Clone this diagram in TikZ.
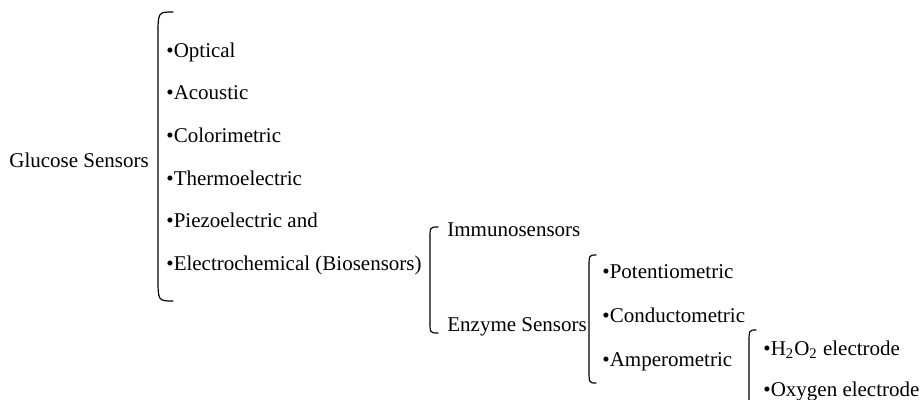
\documentclass[tikz,border=0pt]{standalone}
\usepackage{fontspec}
\setmainfont{Liberation Serif}
\usetikzlibrary{calc,positioning}

\begin{document}
\begin{tikzpicture}[x=0.5pt,y=-0.5pt,
    lbl/.style={anchor=west,inner sep=0pt,font=\fontsize{10.5}{12}\selectfont,
      text height=1.45ex,text depth=.3ex},
    brace/.style={line width=0.6pt,line cap=round}]
    \useasboundingbox (0,0) rectangle (924,400);
    % first level
    \node[lbl] (glucose) at (9,162) {Glucose Sensors};
    \foreach \name/\txt [count=\i] in {optical/Optical,acoustic/Acoustic,
        colori/Colorimetric,thermo/Thermoelectric,piezo/Piezoelectric and,
        electro/Electrochemical (Biosensors)} {
      \node[lbl] (\name) at (166,{52+42.6*(\i-1)}) {\textbullet\txt};
    }
    \draw[brace] (173,12) .. controls (158,12) .. (158,36) -- (158,277)
      .. controls (158,301) .. (173,301);
    % biosensors
    \node[lbl] (immuno) at (447,231) {Immunosensors};
    \node[lbl] (enzyme) at (447,326) {Enzyme Sensors};
    \draw[brace] (438,227) .. controls (430,227) .. (430,239) -- (430,321)
      .. controls (430,333) .. (438,333);
    % enzyme sensors
    \node[lbl] (potentio) at (602,273) {\textbullet Potentiometric};
    \node[lbl] (conducto) at (602,317) {\textbullet Conductometric};
    \node[lbl] (ampero) at (602,361) {\textbullet Amperometric};
    \draw[brace] (596,255) .. controls (589,255) .. (589,269) -- (589,369)
      .. controls (589,383) .. (596,383);
    % amperometric
    \node[lbl] (peroxide) at (763,350) {\textbullet H\textsubscript{2}O\textsubscript{2} electrode};
    \node[lbl] (oxygen) at (763,391) {\textbullet Oxygen electrode};
    \draw[brace] (756,330) .. controls (749,330) .. (749,344) -- (749,400);
\end{tikzpicture}
\end{document}
